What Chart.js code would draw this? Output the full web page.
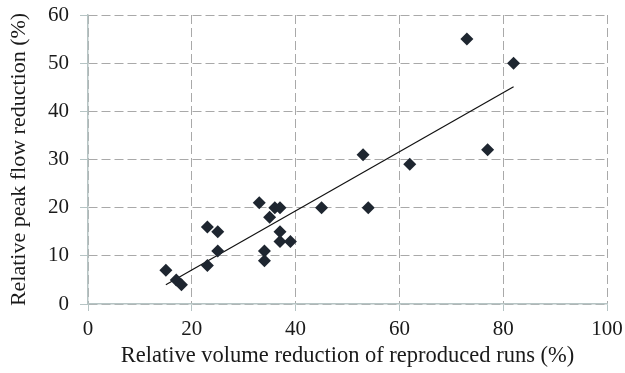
<!DOCTYPE html>
<html>
<head>
<meta charset="utf-8">
<script src="https://cdn.jsdelivr.net/npm/chart.js@4.4.0/dist/chart.umd.min.js"></script>
<style>
  html, body { margin: 0; padding: 0; background: #fff; }
</style>
</head>
<body>
<canvas id="chart" width="625" height="373"></canvas>
<script>
// volume reduction (x) vs peak flow reduction (y), in %
const volumeReduction = [15, 17, 18, 23, 23, 25, 25, 33, 34, 34, 35, 36, 37, 37, 37, 39, 45, 53, 54, 62, 73, 77, 82];
const peakReduction   = [ 7,  5,  4, 16,  8, 15, 11, 21, 11,  9, 18, 20, 20, 15, 13, 13, 20, 31, 20, 29, 55, 32, 50];

// linear trend line end points
const trendX = [15, 82];
const trendY = [4.0, 45.1];

const xTicks = [0, 20, 40, 60, 80, 100];
const yTicks = [0, 10, 20, 30, 40, 50, 60];

const serif = "'Liberation Serif', 'DejaVu Serif', serif";
const gridColor = '#a9a9a9';
const axisColor = '#b6c4c4';

const points = volumeReduction.map((x, i) => ({ x, y: peakReduction[i] }));
const trend = trendX.map((x, i) => ({ x, y: trendY[i] }));

new Chart(document.getElementById('chart').getContext('2d'), {
  type: 'scatter',
  data: {
    datasets: [
      {
        data: points,
        pointStyle: 'rectRot',
        pointRadius: 6.5,
        backgroundColor: '#1e2630',
        borderColor: '#1e2630',
        borderWidth: 0,
      },
      {
        type: 'line',
        data: trend,
        borderColor: '#111',
        borderWidth: 1.2,
        pointRadius: 0,
        fill: false,
      }
    ]
  },
  options: {
    responsive: false,
    animation: false,
    devicePixelRatio: 1,
    layout: { padding: { left: 0, right: 18, top: 15, bottom: 0 } },
    plugins: { legend: { display: false }, tooltip: { enabled: false } },
    scales: {
      x: {
        type: 'linear',
        min: 0, max: 100,
        afterBuildTicks: (axis) => { axis.ticks = xTicks.map(v => ({ value: v })); },
        afterFit: (axis) => { axis.height = 69; axis.paddingLeft = 0; axis.paddingRight = 0; },
        ticks: { color: '#1a1a1a', font: { family: serif, size: 21 }, padding: 6 },
        grid: { color: gridColor, lineWidth: 1, tickLength: 7, tickColor: axisColor, tickBorderDash: [] },
        border: { color: axisColor, width: 1.5, dash: [9, 4] },
        title: {
          display: true,
          text: 'Relative volume reduction of reproduced runs (%)',
          color: '#1a1a1a',
          font: { family: serif, size: 22.5 },
          padding: { top: 0, bottom: 3 }
        }
      },
      y: {
        type: 'linear',
        min: 0, max: 60,
        afterBuildTicks: (axis) => { axis.ticks = yTicks.map(v => ({ value: v })); },
        afterFit: (axis) => { axis.width = 88; axis.paddingTop = 0; axis.paddingBottom = 0; },
        ticks: { color: '#1a1a1a', font: { family: serif, size: 21 }, padding: 11 },
        grid: { color: gridColor, lineWidth: 1, tickLength: 8, tickColor: axisColor, tickBorderDash: [] },
        border: { color: axisColor, width: 1.5, dash: [9, 4] },
        title: {
          display: true,
          text: 'Relative peak flow reduction (%)',
          color: '#1a1a1a',
          font: { family: serif, size: 22 },
          padding: { top: 6, bottom: 0 }
        }
      }
    }
  }
});
</script>
</body>
</html>
